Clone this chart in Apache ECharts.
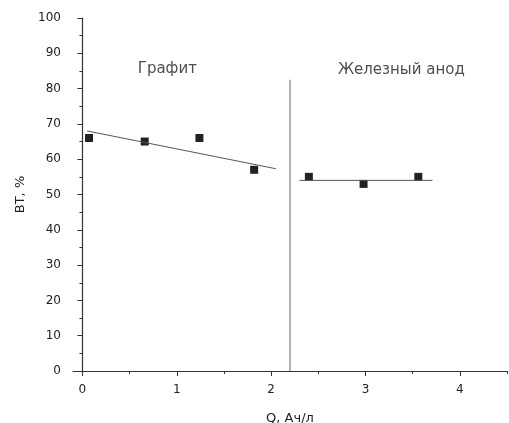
<!DOCTYPE html>
<html>
<head>
<meta charset="utf-8">
<script src="https://cdn.jsdelivr.net/npm/echarts@6/dist/echarts.min.js"></script>
<style>
  html, body { margin: 0; padding: 0; background: #fff; }
  #chart { width: 509px; height: 423px; }
</style>
</head>
<body>
<div id="chart"></div>
<script>
// data
const graphiteX = [0.07, 0.66, 1.24, 1.82]
const graphiteY = [66, 65, 66, 57]
const graphiteFitX = [0.05, 2.05]
const graphiteFitY = [68.0, 57.3]
const ironX = [2.40, 2.98, 3.56]
const ironY = [55, 53, 55]
const ironFitX = [2.30, 3.71]
const ironFitY = [54, 54]
const dividerX = [2.2, 2.2]
const dividerY = [0, 82.5]
const xTicks = [0, 1, 2, 3, 4]
const xMinorTicks = [0.5, 1.5, 2.5, 3.5, 4.5]
const labels = [
  { name: 'Графит', x: 0.9, y: 85.6 },
  { name: 'Железный анод', x: 3.38, y: 85.3 }
]

const pairs = (xs, ys) => xs.map((x, i) => [x, ys[i]])

const chart = echarts.init(document.getElementById('chart'))
const font = 'DejaVu Sans, Arial, sans-serif'

const option = {
  animation: false,
  backgroundColor: '#fff',
  grid: { left: 73, right: 2, top: 18, bottom: 52, outerBoundsMode: 'none', containLabel: false },
  xAxis: [
    {
      type: 'value',
      min: -0.1,
      max: 4.5,
      name: 'Q, Ач/л',
      nameLocation: 'center',
      nameGap: 41,
      nameTextStyle: { fontFamily: font, fontSize: 13, color: '#222' },
      axisLine: { show: true, lineStyle: { color: '#333', width: 1.2 } },
      axisTick: { show: true, length: 5, customValues: xTicks, lineStyle: { color: '#333' } },
      axisLabel: { customValues: xTicks, margin: 13, fontFamily: font, fontSize: 12, color: '#222' },
      splitLine: { show: false }
    },
    {
      type: 'value',
      min: -0.1,
      max: 4.5,
      position: 'bottom',
      axisLine: { show: false },
      axisTick: { show: true, length: 3, customValues: xMinorTicks, lineStyle: { color: '#333' } },
      axisLabel: { show: false },
      splitLine: { show: false }
    }
  ],
  yAxis: {
    type: 'value',
    min: 0,
    max: 100,
    interval: 10,
    name: 'ВТ, %',
    nameLocation: 'center',
    nameGap: 45,
    nameTextStyle: { fontFamily: font, fontSize: 13, color: '#222' },
    axisLine: { show: true, lineStyle: { color: '#333', width: 1.2 } },
    axisTick: { show: true, length: 5, lineStyle: { color: '#333' } },
    minorTick: { show: true, splitNumber: 2, length: 3, lineStyle: { color: '#333' } },
    axisLabel: { margin: 12, fontFamily: font, fontSize: 12, color: '#222' },
    splitLine: { show: false }
  },
  series: [
    {
      type: 'line',
      data: pairs(dividerX, dividerY),
      symbol: 'none',
      lineStyle: { color: '#999', width: 1.5 }
    },
    {
      type: 'line',
      data: pairs(graphiteFitX, graphiteFitY),
      symbol: 'none',
      lineStyle: { color: '#555', width: 1 }
    },
    {
      type: 'line',
      data: pairs(ironFitX, ironFitY),
      symbol: 'none',
      lineStyle: { color: '#555', width: 1 }
    },
    {
      type: 'scatter',
      data: pairs(graphiteX, graphiteY),
      symbol: 'rect',
      symbolSize: 8,
      itemStyle: { color: '#222', opacity: 1 }
    },
    {
      type: 'scatter',
      data: pairs(ironX, ironY),
      symbol: 'rect',
      symbolSize: 8,
      itemStyle: { color: '#222', opacity: 1 }
    },
    {
      type: 'scatter',
      data: labels.map(l => ({ name: l.name, value: [l.x, l.y] })),
      symbolSize: 0,
      label: {
        show: true,
        position: 'inside',
        formatter: '{b}',
        fontFamily: font,
        fontSize: 15,
        color: '#222'
      }
    }
  ]
}

chart.setOption(option)
window.addEventListener('resize', () => { chart.resize() })
</script>
</body>
</html>
